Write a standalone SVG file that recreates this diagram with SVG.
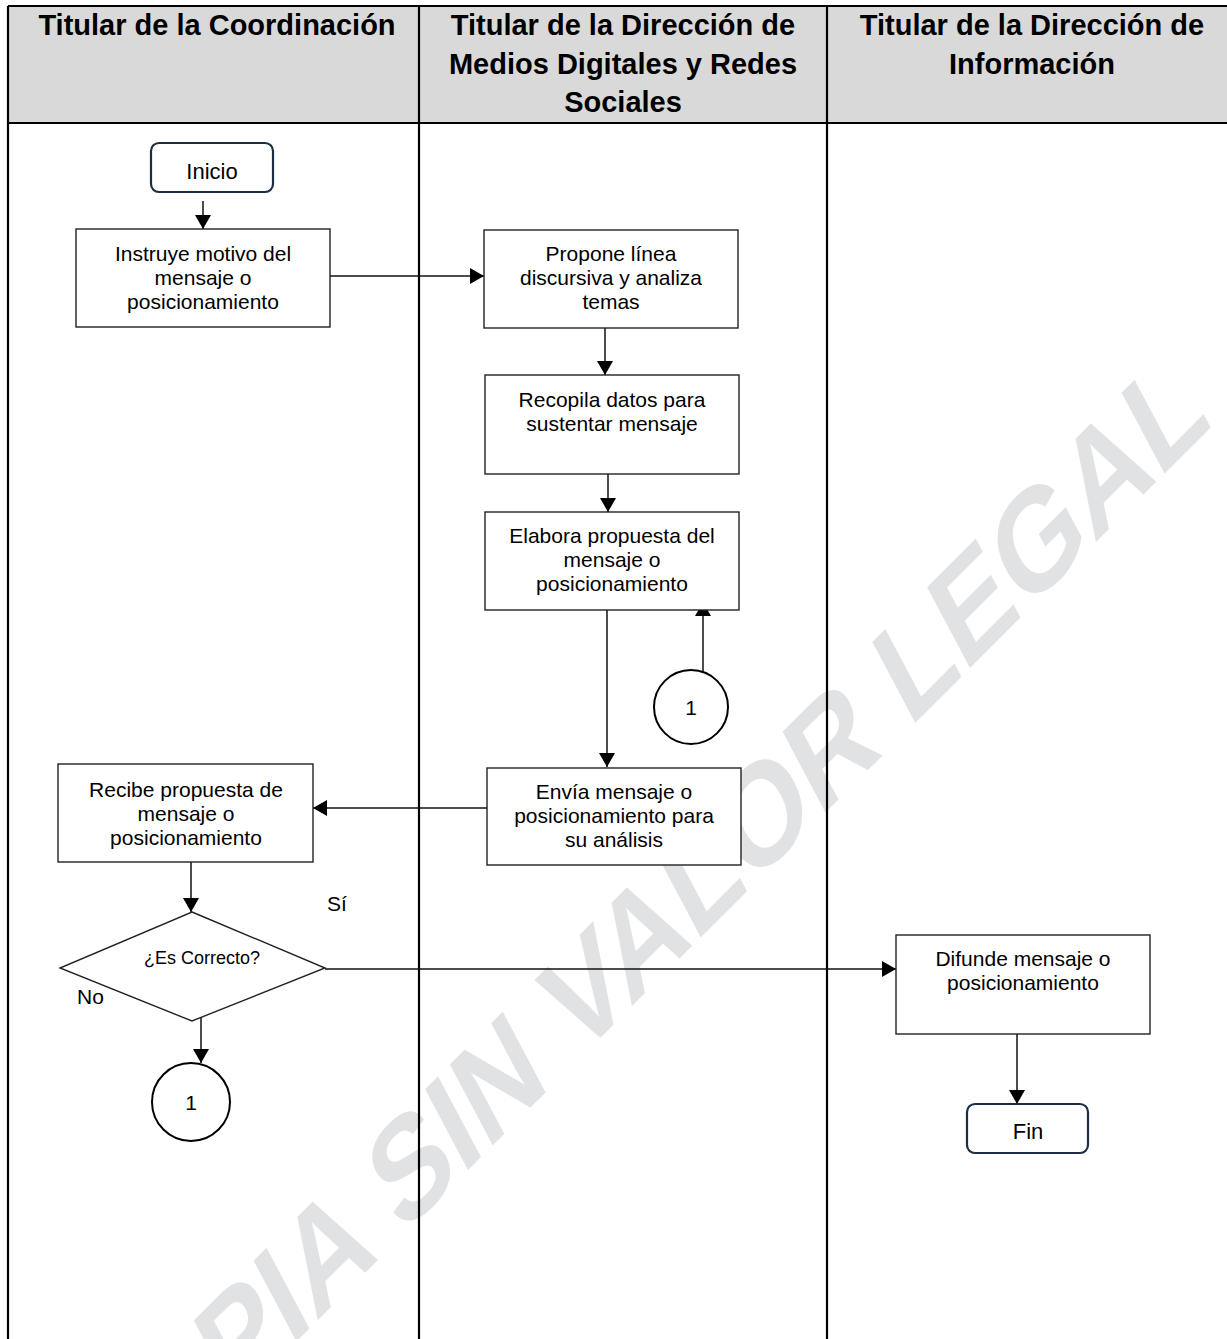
<svg xmlns="http://www.w3.org/2000/svg" width="1227" height="1339" viewBox="0 0 1227 1339">
<style>
.hdr{font-family:"Liberation Sans",Arial,sans-serif;font-weight:bold;font-size:29px;fill:#000;text-anchor:middle}
.t{font-family:"Liberation Sans",Arial,sans-serif;font-size:21px;fill:#000;text-anchor:middle}
.box{fill:#fff;stroke:#222;stroke-width:1.4}
.term{fill:#fff;stroke:#1c2e44;stroke-width:2.2}
.circ{fill:#fff;stroke:#000;stroke-width:2}
.lane{stroke:#000;stroke-width:2.2;fill:none}
.con{stroke:#111;stroke-width:1.5;fill:none;marker-end:url(#ah)}
.wm{font-family:"Liberation Sans",Arial,sans-serif;font-weight:bold;font-size:127px;fill:#e1e2e4}
</style>
<defs>
<marker id="ah" markerUnits="userSpaceOnUse" markerWidth="14" markerHeight="16" refX="14" refY="8" orient="auto">
<path d="M0,0 L14,8 L0,16 z" fill="#000"/>
</marker>
</defs>
<rect x="0" y="0" width="1227" height="1339" fill="#fff"/>
<text class="wm" transform="translate(96,1542) rotate(-45) skewX(-17)">COPIA SIN VALOR LEGAL</text>
<g id="lanes">
<rect x="8" y="6" width="1225" height="117" fill="#d9d9d9"/>
<line class="lane" x1="8" y1="6" x2="1227" y2="6"/>
<line class="lane" x1="8" y1="123" x2="1227" y2="123"/>
<line class="lane" x1="8" y1="6" x2="8" y2="1339"/>
<line class="lane" x1="419" y1="6" x2="419" y2="1339"/>
<line class="lane" x1="827" y1="6" x2="827" y2="1339"/>
<text class="hdr" x="217" y="35">Titular de la Coordinación</text>
<text class="hdr" x="623" y="35">Titular de la Dirección de</text>
<text class="hdr" x="623" y="73.5">Medios Digitales y Redes</text>
<text class="hdr" x="623" y="112">Sociales</text>
<text class="hdr" x="1032" y="35">Titular de la Dirección de</text>
<text class="hdr" x="1032" y="73.5">Información</text>
</g>
<g id="connectors">
<path class="con" d="M203,201 V229"/>
<path class="con" d="M330,276 H484"/>
<path class="con" d="M605,328 V375"/>
<path class="con" d="M608,474 V512"/>
<path class="con" d="M607,610 V767"/>
<path class="con" d="M703,672 V602"/>
<path class="con" d="M487,808 H313"/>
<path class="con" d="M191,862 V912"/>
<path class="con" d="M325,969 H896"/>
<path class="con" d="M201,1017 V1063"/>
<path class="con" d="M1017,1034 V1104"/>
</g>
<g id="inicio">
<rect class="term" x="151" y="143" width="122" height="49" rx="8"/>
<text class="t" x="212" y="179" style="font-size:22px">Inicio</text>
</g>
<g id="instruye">
<rect class="box" x="76" y="229" width="254" height="98"/>
<text class="t" x="203" y="261">Instruye motivo del</text>
<text class="t" x="203" y="285">mensaje o</text>
<text class="t" x="203" y="309">posicionamiento</text>
</g>
<g id="propone">
<rect class="box" x="484" y="230" width="254" height="98"/>
<text class="t" x="611" y="261">Propone línea</text>
<text class="t" x="611" y="285">discursiva y analiza</text>
<text class="t" x="611" y="309">temas</text>
</g>
<g id="recopila">
<rect class="box" x="485" y="375" width="254" height="99"/>
<text class="t" x="612" y="407">Recopila datos para</text>
<text class="t" x="612" y="431">sustentar mensaje</text>
</g>
<g id="elabora">
<rect class="box" x="485" y="512" width="254" height="98"/>
<text class="t" x="612" y="543">Elabora propuesta del</text>
<text class="t" x="612" y="567">mensaje o</text>
<text class="t" x="612" y="591">posicionamiento</text>
</g>
<g id="conector1a">
<circle class="circ" cx="691" cy="707" r="37"/>
<text class="t" x="691" y="715">1</text>
</g>
<g id="envia">
<rect class="box" x="487" y="768" width="254" height="97"/>
<text class="t" x="614" y="799">Envía mensaje o</text>
<text class="t" x="614" y="823">posicionamiento para</text>
<text class="t" x="614" y="847">su análisis</text>
</g>
<g id="recibe">
<rect class="box" x="58" y="764" width="255" height="98"/>
<text class="t" x="186" y="797">Recibe propuesta de</text>
<text class="t" x="186" y="821">mensaje o</text>
<text class="t" x="186" y="845">posicionamiento</text>
</g>
<g id="decision">
<polygon class="box" points="192,912 325,968 192,1021 60,968"/>
<text class="t" x="202" y="964" style="font-size:18px">¿Es Correcto?</text>
<text class="t" x="327" y="911" style="text-anchor:start">Sí</text>
<text class="t" x="77" y="1004" style="text-anchor:start">No</text>
</g>
<g id="conector1b">
<circle class="circ" cx="191" cy="1102" r="39"/>
<text class="t" x="191" y="1110">1</text>
</g>
<g id="difunde">
<rect class="box" x="896" y="935" width="254" height="99"/>
<text class="t" x="1023" y="966">Difunde mensaje o</text>
<text class="t" x="1023" y="990">posicionamiento</text>
</g>
<g id="fin">
<rect class="term" x="967" y="1104" width="121" height="49" rx="8"/>
<text class="t" x="1028" y="1139" style="font-size:22px">Fin</text>
</g>
</svg>
